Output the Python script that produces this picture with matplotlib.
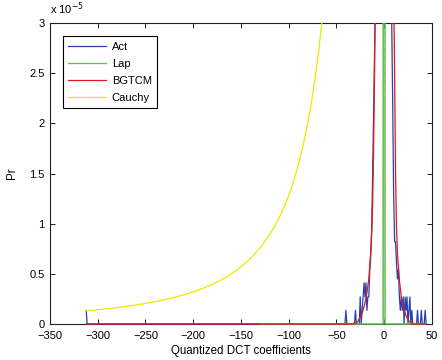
import matplotlib
matplotlib.use("Agg")
import matplotlib.pyplot as plt
from matplotlib.patches import Rectangle

plt.rcParams["font.family"] = ["Liberation Sans", "DejaVu Sans"]

# probabilities are given in units of 1e-5
SCALE = 1e-5

# empirical histogram of the quantized coefficients
act_x = [-312, -311] + list(range(-45, 45))
act_y = [0.136, 0.0,
         # -45 .. -31
         0, 0, 0, 0, 0, 0.136, 0, 0, 0, 0, 0, 0, 0, 0, 0,
         # -30 .. -16
         0.136, 0, 0, 0, 0, 0.27, 0, 0.136, 0.27, 0.41, 0.27, 0.41, 0.136, 0.27, 0.27,
         # -15 .. -1
         0.54, 0.68, 0.95, 1.5, 2.1, 2.7, 3.3, 4.5, 6.0, 8.0, 11.0, 15.0, 20.0, 27.0, 35.0,
         # 0 .. 14
         40.0, 30.0, 22.0, 16.0, 11.0, 8.0, 5.5, 4.2, 3.0, 2.2, 1.3, 0.82, 0.82, 0.6, 0.45,
         # 15 .. 29
         0.55, 0.27, 0.136, 0.27, 0.136, 0.27, 0, 0.27, 0.136, 0.27, 0, 0.136, 0.27, 0, 0.136,
         # 30 .. 44
         0, 0, 0, 0, 0, 0.136, 0, 0, 0, 0.136, 0, 0, 0, 0.136, 0]

# Laplacian fit
lap_x = [-130, -1, 0, 1, 43]
lap_y = [0.0, 0.0, 60.0, 0.0, 0.0]

# BGTCM fit
bgtcm_x = [-312, -35, -30, -28, -26, -24, -22, -20, -18, -16, -14, -13, -12, -11, -10,
           -9, -8, -6, -4, -2, 0, 2, 4, 6, 8, 9, 10, 11, 12, 13, 14, 16, 18, 20, 22,
           24, 26, 28, 30, 43]
bgtcm_y = [0.0, 0.0, 0.01, 0.02, 0.05, 0.09, 0.14, 0.21, 0.31, 0.45, 0.72, 0.9, 1.2, 1.75, 2.5,
           3.5, 4.8, 8.0, 13.0, 20.0, 30.0, 20.0, 13.0, 8.5, 5.5, 4.3, 3.4, 2.5, 1.5, 0.95, 0.7,
           0.44, 0.27, 0.17, 0.11, 0.06, 0.03, 0.01, 0.0, 0.0]

# Cauchy fit
cauchy_x = [-312, -300, -290, -280, -270, -260, -250, -240, -230, -220, -210, -200,
            -190, -180, -170, -160, -150, -140, -130, -120, -115, -110, -105, -100,
            -95, -90, -85, -80, -76, -72, -68, -65, -62]
cauchy_y = [0.132, 0.142, 0.152, 0.163, 0.176, 0.189, 0.205, 0.222, 0.242, 0.264, 0.290, 0.320,
            0.355, 0.395, 0.443, 0.500, 0.569, 0.653, 0.757, 0.889, 0.968, 1.058, 1.161, 1.280,
            1.418, 1.580, 1.772, 2.000, 2.216, 2.469, 2.768, 3.030, 3.330]

xticks = [-350, -300, -250, -200, -150, -100, -50, 0, 50]
yticks = [0, 0.5, 1, 1.5, 2, 2.5, 3]

fig = plt.figure(figsize=(4.42, 3.6), dpi=100)
ax = fig.add_axes([0.113, 0.1, 0.864, 0.836])

series = [
    (act_x, act_y, "#2542b2", 0.9, "Act"),
    (lap_x, lap_y, "#62bc4c", 1.1, "Lap"),
    (bgtcm_x, bgtcm_y, "#e8141c", 0.9, "BGTCM"),
    (cauchy_x, cauchy_y, "#f2e600", 0.9, "Cauchy"),
]

# clip at the top of the axes but let the zero lines sit fully on the bottom spine
clip = Rectangle((0, -0.01), 1, 1.01, transform=ax.transAxes, facecolor="none",
                 edgecolor="none")
ax.add_patch(clip)

for xs, ys, col, lw, name in series:
    line, = ax.plot(xs, [v * SCALE for v in ys], color=col, linewidth=lw,
                    label=name, zorder=3)
    line.set_clip_path(clip)

ax.set_xlim(-350, 50)
ax.set_ylim(0, 3e-5)
ax.set_xticks(xticks)
ax.set_xticklabels([str(t).replace("-", "\u2212") for t in xticks])
ax.set_yticks([t * SCALE for t in yticks])
ax.set_yticklabels(["0", "0.5", "1", "1.5", "2", "2.5", "3"])

ax.tick_params(direction="in", top=True, right=True, length=3.5, width=0.6,
               labelsize=8)
ax.tick_params(axis="x", pad=5)
ax.tick_params(axis="y", pad=4)
for s in ax.spines.values():
    s.set_linewidth(0.8)
    s.set_color("#222222")

ax.text(0.0, 1.02, r"x 10$^{-5}$", transform=ax.transAxes, fontsize=8,
        ha="left", va="bottom")

ax.set_xlabel("Quantized DCT coefficients", fontsize=8.3, labelpad=3)
ax.set_ylabel("Pr", fontsize=8.3, labelpad=8)

leg = ax.legend(loc="upper left", bbox_to_anchor=(0.034, 0.956), fontsize=8,
                handlelength=3.4, handletextpad=0.5, labelspacing=0.62,
                borderpad=0.5, borderaxespad=0, fancybox=False, framealpha=1)
leg.get_frame().set_edgecolor("black")
leg.get_frame().set_linewidth(0.8)
for h in leg.get_lines():
    h.set_linewidth(0.9)

fig.savefig("out.png", dpi=100)
